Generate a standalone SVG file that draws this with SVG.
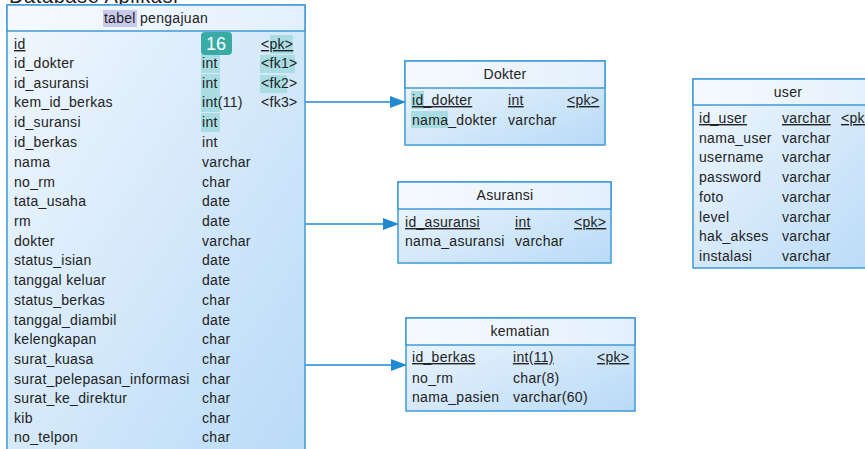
<svg xmlns="http://www.w3.org/2000/svg" width="865" height="449" viewBox="0 0 865 449">
<defs>
<linearGradient id="g" x1="0" y1="0" x2="1" y2="1">
<stop offset="0" stop-color="#f2f8fe"/>
<stop offset="1" stop-color="#b8daf7"/>
</linearGradient>
<linearGradient id="gh" x1="0" y1="0" x2="1" y2="0">
<stop offset="0" stop-color="#f6fafe"/>
<stop offset="1" stop-color="#e3f0fc"/>
</linearGradient>
<marker id="arr" markerWidth="16" markerHeight="12" refX="15" refY="6" orient="auto" markerUnits="userSpaceOnUse">
<path d="M0,0 L16,6 L0,12 Z" fill="#1f8ad0"/>
</marker>
<style>
.box{fill:url(#g);stroke:#3f9ad6;stroke-width:1.5}
.hd{fill:url(#gh);stroke:#3f9ad6;stroke-width:1.5}
text{font-family:"Liberation Sans",Arial,sans-serif;font-size:14px;letter-spacing:0.3px;fill:#222}
.c{text-anchor:middle}
.u{text-decoration:underline}
.hl{fill:#a9dde3}
.conn{stroke:#1f8ad0;stroke-width:1.5;fill:none;marker-end:url(#arr)}
</style>
</defs>
<rect width="865" height="449" fill="#ffffff"/>
<text x="9" y="3" style="font-size:20px;letter-spacing:0.6px">Database Aplikasi</text>

<g id="connectors">
<line class="conn" x1="305" y1="102" x2="405" y2="102"/>
<line class="conn" x1="305" y1="224" x2="398" y2="224"/>
<line class="conn" x1="305" y1="365" x2="406" y2="365"/>
</g>

<g id="tabel_pengajuan">
<rect class="box" x="7" y="5" width="298" height="460"/>
<rect class="hd" x="7" y="5" width="298" height="26"/>
<rect x="103" y="10" width="34" height="17" fill="#c9c9eb"/>
<text class="c" x="156" y="23">tabel pengajuan</text>
<rect class="hl" x="201" y="54" width="19" height="19"/>
<rect class="hl" x="201" y="74" width="19" height="19"/>
<rect class="hl" x="201" y="93" width="19" height="19"/>
<rect class="hl" x="201" y="113" width="19" height="19"/>
<rect class="hl" x="270" y="35" width="23" height="19"/>
<rect class="hl" x="260" y="55" width="35" height="18"/>
<rect class="hl" x="260" y="75" width="27" height="18"/>
<text class="u" x="14" y="49">id</text><text class="u" x="261" y="49">&lt;pk&gt;</text>
<text x="14" y="68">id_dokter</text><text x="202" y="68">int</text><text x="261" y="68">&lt;fk1&gt;</text>
<text x="14" y="88">id_asuransi</text><text x="202" y="88">int</text><text x="261" y="88">&lt;fk2&gt;</text>
<text x="14" y="107">kem_id_berkas</text><text x="202" y="107">int(11)</text><text x="261" y="107">&lt;fk3&gt;</text>
<text x="14" y="127">id_suransi</text><text x="202" y="127">int</text>
<text x="14" y="147">id_berkas</text><text x="202" y="147">int</text>
<text x="14" y="167">nama</text><text x="202" y="167">varchar</text>
<text x="14" y="187">no_rm</text><text x="202" y="187">char</text>
<text x="14" y="206">tata_usaha</text><text x="202" y="206">date</text>
<text x="14" y="226">rm</text><text x="202" y="226">date</text>
<text x="14" y="246">dokter</text><text x="202" y="246">varchar</text>
<text x="14" y="265">status_isian</text><text x="202" y="265">date</text>
<text x="14" y="285">tanggal keluar</text><text x="202" y="285">date</text>
<text x="14" y="305">status_berkas</text><text x="202" y="305">char</text>
<text x="14" y="325">tanggal_diambil</text><text x="202" y="325">date</text>
<text x="14" y="344">kelengkapan</text><text x="202" y="344">char</text>
<text x="14" y="364">surat_kuasa</text><text x="202" y="364">char</text>
<text x="14" y="384">surat_pelepasan_informasi</text><text x="202" y="384">char</text>
<text x="14" y="403">surat_ke_direktur</text><text x="202" y="403">char</text>
<text x="14" y="423">kib</text><text x="202" y="423">char</text>
<text x="14" y="442">no_telpon</text><text x="202" y="442">char</text>
<rect x="201" y="32" width="31" height="23" rx="4" fill="#3aaaa5"/>
<text x="206" y="50" style="font-size:18px;letter-spacing:0;fill:#ffffff">16</text>
</g>

<g id="dokter">
<rect class="box" x="405" y="61" width="200" height="84"/>
<rect class="hd" x="405" y="61" width="200" height="27"/>
<text class="c" x="505" y="79">Dokter</text>
<rect class="hl" x="411" y="91" width="13" height="18"/>
<rect class="hl" x="411" y="111" width="37" height="17"/>
<text class="u" x="412" y="105">id_dokter</text><text class="u" x="508" y="105">int</text><text class="u" x="567" y="105">&lt;pk&gt;</text>
<text x="412" y="125">nama_dokter</text><text x="508" y="125">varchar</text>
</g>

<g id="asuransi">
<rect class="box" x="398" y="182" width="213" height="81"/>
<rect class="hd" x="398" y="182" width="213" height="27"/>
<text class="c" x="505" y="200">Asuransi</text>
<text class="u" x="405" y="227">id_asuransi</text><text class="u" x="515" y="227">int</text><text class="u" x="574" y="227">&lt;pk&gt;</text>
<text x="405" y="246">nama_asuransi</text><text x="515" y="246">varchar</text>
</g>

<g id="kematian">
<rect class="box" x="406" y="318" width="229" height="93"/>
<rect class="hd" x="406" y="318" width="229" height="27"/>
<text class="c" x="520" y="336">kematian</text>
<text class="u" x="412" y="362">id_berkas</text><text class="u" x="513" y="362">int(11)</text><text class="u" x="597" y="362">&lt;pk&gt;</text>
<text x="412" y="383">no_rm</text><text x="513" y="383">char(8)</text>
<text x="412" y="402">nama_pasien</text><text x="513" y="402">varchar(60)</text>
</g>

<g id="user">
<rect class="box" x="693" y="79" width="190" height="189"/>
<rect class="hd" x="693" y="79" width="190" height="26"/>
<text class="c" x="788" y="97">user</text>
<text class="u" x="699" y="123">id_user</text><text class="u" x="782" y="123">varchar</text><text class="u" x="841" y="123">&lt;pk&gt;</text>
<text x="699" y="143">nama_user</text><text x="782" y="143">varchar</text>
<text x="699" y="162">username</text><text x="782" y="162">varchar</text>
<text x="699" y="182">password</text><text x="782" y="182">varchar</text>
<text x="699" y="202">foto</text><text x="782" y="202">varchar</text>
<text x="699" y="222">level</text><text x="782" y="222">varchar</text>
<text x="699" y="241">hak_akses</text><text x="782" y="241">varchar</text>
<text x="699" y="261">instalasi</text><text x="782" y="261">varchar</text>
</g>
</svg>
